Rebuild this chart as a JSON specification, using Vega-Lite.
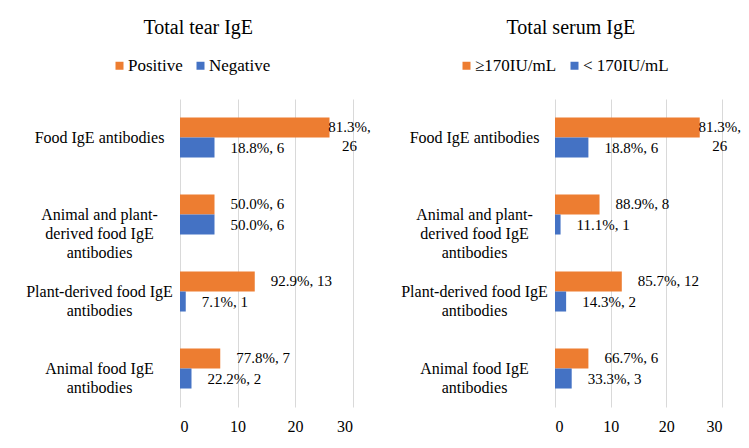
{
  "$schema": "https://vega.github.io/schema/vega-lite/v6.json",
  "background": "white",
  "padding": {"left": 25, "top": 18, "right": 0, "bottom": 5},
  "config": {
    "font": "Liberation Serif",
    "view": {"stroke": null},
    "style": {"guide-label": {"font": "Liberation Serif", "fill": "#000"}, "guide-title": {"font": "Liberation Serif"}},
    "axis": {"labelFont": "Liberation Serif", "labelColor": "#000", "labelFontSize": 16, "domain": false, "ticks": false, "title": null},
    "legend": {"labelFont": "Liberation Serif", "labelFontSize": 17, "labelColor": "#000", "symbolType": "square", "symbolSize": 64, "symbolStrokeWidth": 0, "orient": "none", "direction": "horizontal", "title": null, "columnPadding": 9, "labelOffset": 0},
    "title": {"font": "Liberation Serif", "fontSize": 20, "fontWeight": "normal", "color": "#000", "frame": "bounds", "offset": 19},
    "text": {"font": "Liberation Serif", "fontSize": 15, "color": "#000"}
  },
  "datasets": {
    "tear": [
      {"category": "Food IgE antibodies", "series": "Positive", "value": 26, "label": "81.3%, 26"},
      {"category": "Food IgE antibodies", "series": "Negative", "value": 6, "label": "18.8%, 6"},
      {"category": "Animal and plant-derived food IgE antibodies", "series": "Positive", "value": 6, "label": "50.0%, 6"},
      {"category": "Animal and plant-derived food IgE antibodies", "series": "Negative", "value": 6, "label": "50.0%, 6"},
      {"category": "Plant-derived food IgE antibodies", "series": "Positive", "value": 13, "label": "92.9%, 13"},
      {"category": "Plant-derived food IgE antibodies", "series": "Negative", "value": 1, "label": "7.1%, 1"},
      {"category": "Animal food IgE antibodies", "series": "Positive", "value": 7, "label": "77.8%, 7"},
      {"category": "Animal food IgE antibodies", "series": "Negative", "value": 2, "label": "22.2%, 2"}
    ],
    "serum": [
      {"category": "Food IgE antibodies", "series": "≥170IU/mL", "value": 26, "label": "81.3%, 26"},
      {"category": "Food IgE antibodies", "series": "< 170IU/mL", "value": 6, "label": "18.8%, 6"},
      {"category": "Animal and plant-derived food IgE antibodies", "series": "≥170IU/mL", "value": 8, "label": "88.9%, 8"},
      {"category": "Animal and plant-derived food IgE antibodies", "series": "< 170IU/mL", "value": 1, "label": "11.1%, 1"},
      {"category": "Plant-derived food IgE antibodies", "series": "≥170IU/mL", "value": 12, "label": "85.7%, 12"},
      {"category": "Plant-derived food IgE antibodies", "series": "< 170IU/mL", "value": 2, "label": "14.3%, 2"},
      {"category": "Animal food IgE antibodies", "series": "≥170IU/mL", "value": 6, "label": "66.7%, 6"},
      {"category": "Animal food IgE antibodies", "series": "< 170IU/mL", "value": 3, "label": "33.3%, 3"}
    ]
  },
  "resolve": {"scale": {"color": "independent", "yOffset": "independent", "y": "independent", "x": "independent"}},
  "spacing": 29,
  "hconcat": [
    {
      "title": {"text": "Total tear IgE"},
      "width": 172.5,
      "height": 308,
      "data": {"name": "tear"},
      "encoding": {
        "y": {"field": "category", "type": "nominal", "sort": null,
          "scale": {"paddingInner": 0.48, "paddingOuter": 0.24},
          "axis": {"labelAlign": "center", "labelPadding": 81, "labelLineHeight": 19, "grid": false, "labelFont": "Liberation Serif", "labelFontSize": 16,
            "labelExpr": "datum.value == 'Animal and plant-derived food IgE antibodies' ? ['Animal and plant-', 'derived food IgE', 'antibodies'] : datum.value == 'Plant-derived food IgE antibodies' ? ['Plant-derived food IgE', 'antibodies'] : datum.value == 'Animal food IgE antibodies' ? ['Animal food IgE', 'antibodies'] : datum.value"}},
        "yOffset": {"field": "series", "type": "nominal", "sort": null, "scale": {"paddingInner": 0, "paddingOuter": 0}},
        "x": {"field": "value", "type": "quantitative", "scale": {"domain": [0, 30], "nice": false},
          "axis": {"values": [0, 10, 20, 30], "grid": true, "gridColor": "#D9D9D9", "labelPadding": 11, "labelFont": "Liberation Serif", "labelFontSize": 16}}
      },
      "layer": [
        {"mark": {"type": "bar"},
         "encoding": {"color": {"field": "series", "type": "nominal", "sort": null,
           "scale": {"domain": ["Positive", "Negative"], "range": ["#ED7D31", "#4472C4"]},
           "legend": {"legendX": -69, "legendY": -42, "labelFont": "Liberation Serif"}}}},
        {"transform": [{"filter": "datum.value < 20"}],
         "mark": {"type": "text", "align": "left", "dx": 16, "font": "Liberation Serif"},
         "encoding": {"text": {"field": "label"}}},
        {"transform": [{"filter": "datum.value >= 20"}],
         "mark": {"type": "text", "align": "center", "dx": 20, "lineBreak": " ", "lineHeight": 19, "font": "Liberation Serif"},
         "encoding": {"text": {"field": "label"}}}
      ]
    },
    {
      "title": {"text": "Total serum IgE"},
      "width": 167,
      "height": 308,
      "data": {"name": "serum"},
      "encoding": {
        "y": {"field": "category", "type": "nominal", "sort": null,
          "scale": {"paddingInner": 0.48, "paddingOuter": 0.24},
          "axis": {"labelAlign": "center", "labelPadding": 81, "labelLineHeight": 19, "grid": false, "labelFont": "Liberation Serif", "labelFontSize": 16,
            "labelExpr": "datum.value == 'Animal and plant-derived food IgE antibodies' ? ['Animal and plant-', 'derived food IgE', 'antibodies'] : datum.value == 'Plant-derived food IgE antibodies' ? ['Plant-derived food IgE', 'antibodies'] : datum.value == 'Animal food IgE antibodies' ? ['Animal food IgE', 'antibodies'] : datum.value"}},
        "yOffset": {"field": "series", "type": "nominal", "sort": null, "scale": {"paddingInner": 0, "paddingOuter": 0}},
        "x": {"field": "value", "type": "quantitative", "scale": {"domain": [0, 30], "nice": false},
          "axis": {"values": [0, 10, 20, 30], "grid": true, "gridColor": "#D9D9D9", "labelPadding": 11, "labelFont": "Liberation Serif", "labelFontSize": 16}}
      },
      "layer": [
        {"mark": {"type": "bar"},
         "encoding": {"color": {"field": "series", "type": "nominal", "sort": null,
           "scale": {"domain": ["≥170IU/mL", "< 170IU/mL"], "range": ["#ED7D31", "#4472C4"]},
           "legend": {"legendX": -97, "legendY": -42, "labelFont": "Liberation Serif"}}}},
        {"transform": [{"filter": "datum.value < 20"}],
         "mark": {"type": "text", "align": "left", "dx": 16, "font": "Liberation Serif"},
         "encoding": {"text": {"field": "label"}}},
        {"transform": [{"filter": "datum.value >= 20"}],
         "mark": {"type": "text", "align": "center", "dx": 20, "lineBreak": " ", "lineHeight": 19, "font": "Liberation Serif"},
         "encoding": {"text": {"field": "label"}}}
      ]
    }
  ]
}
